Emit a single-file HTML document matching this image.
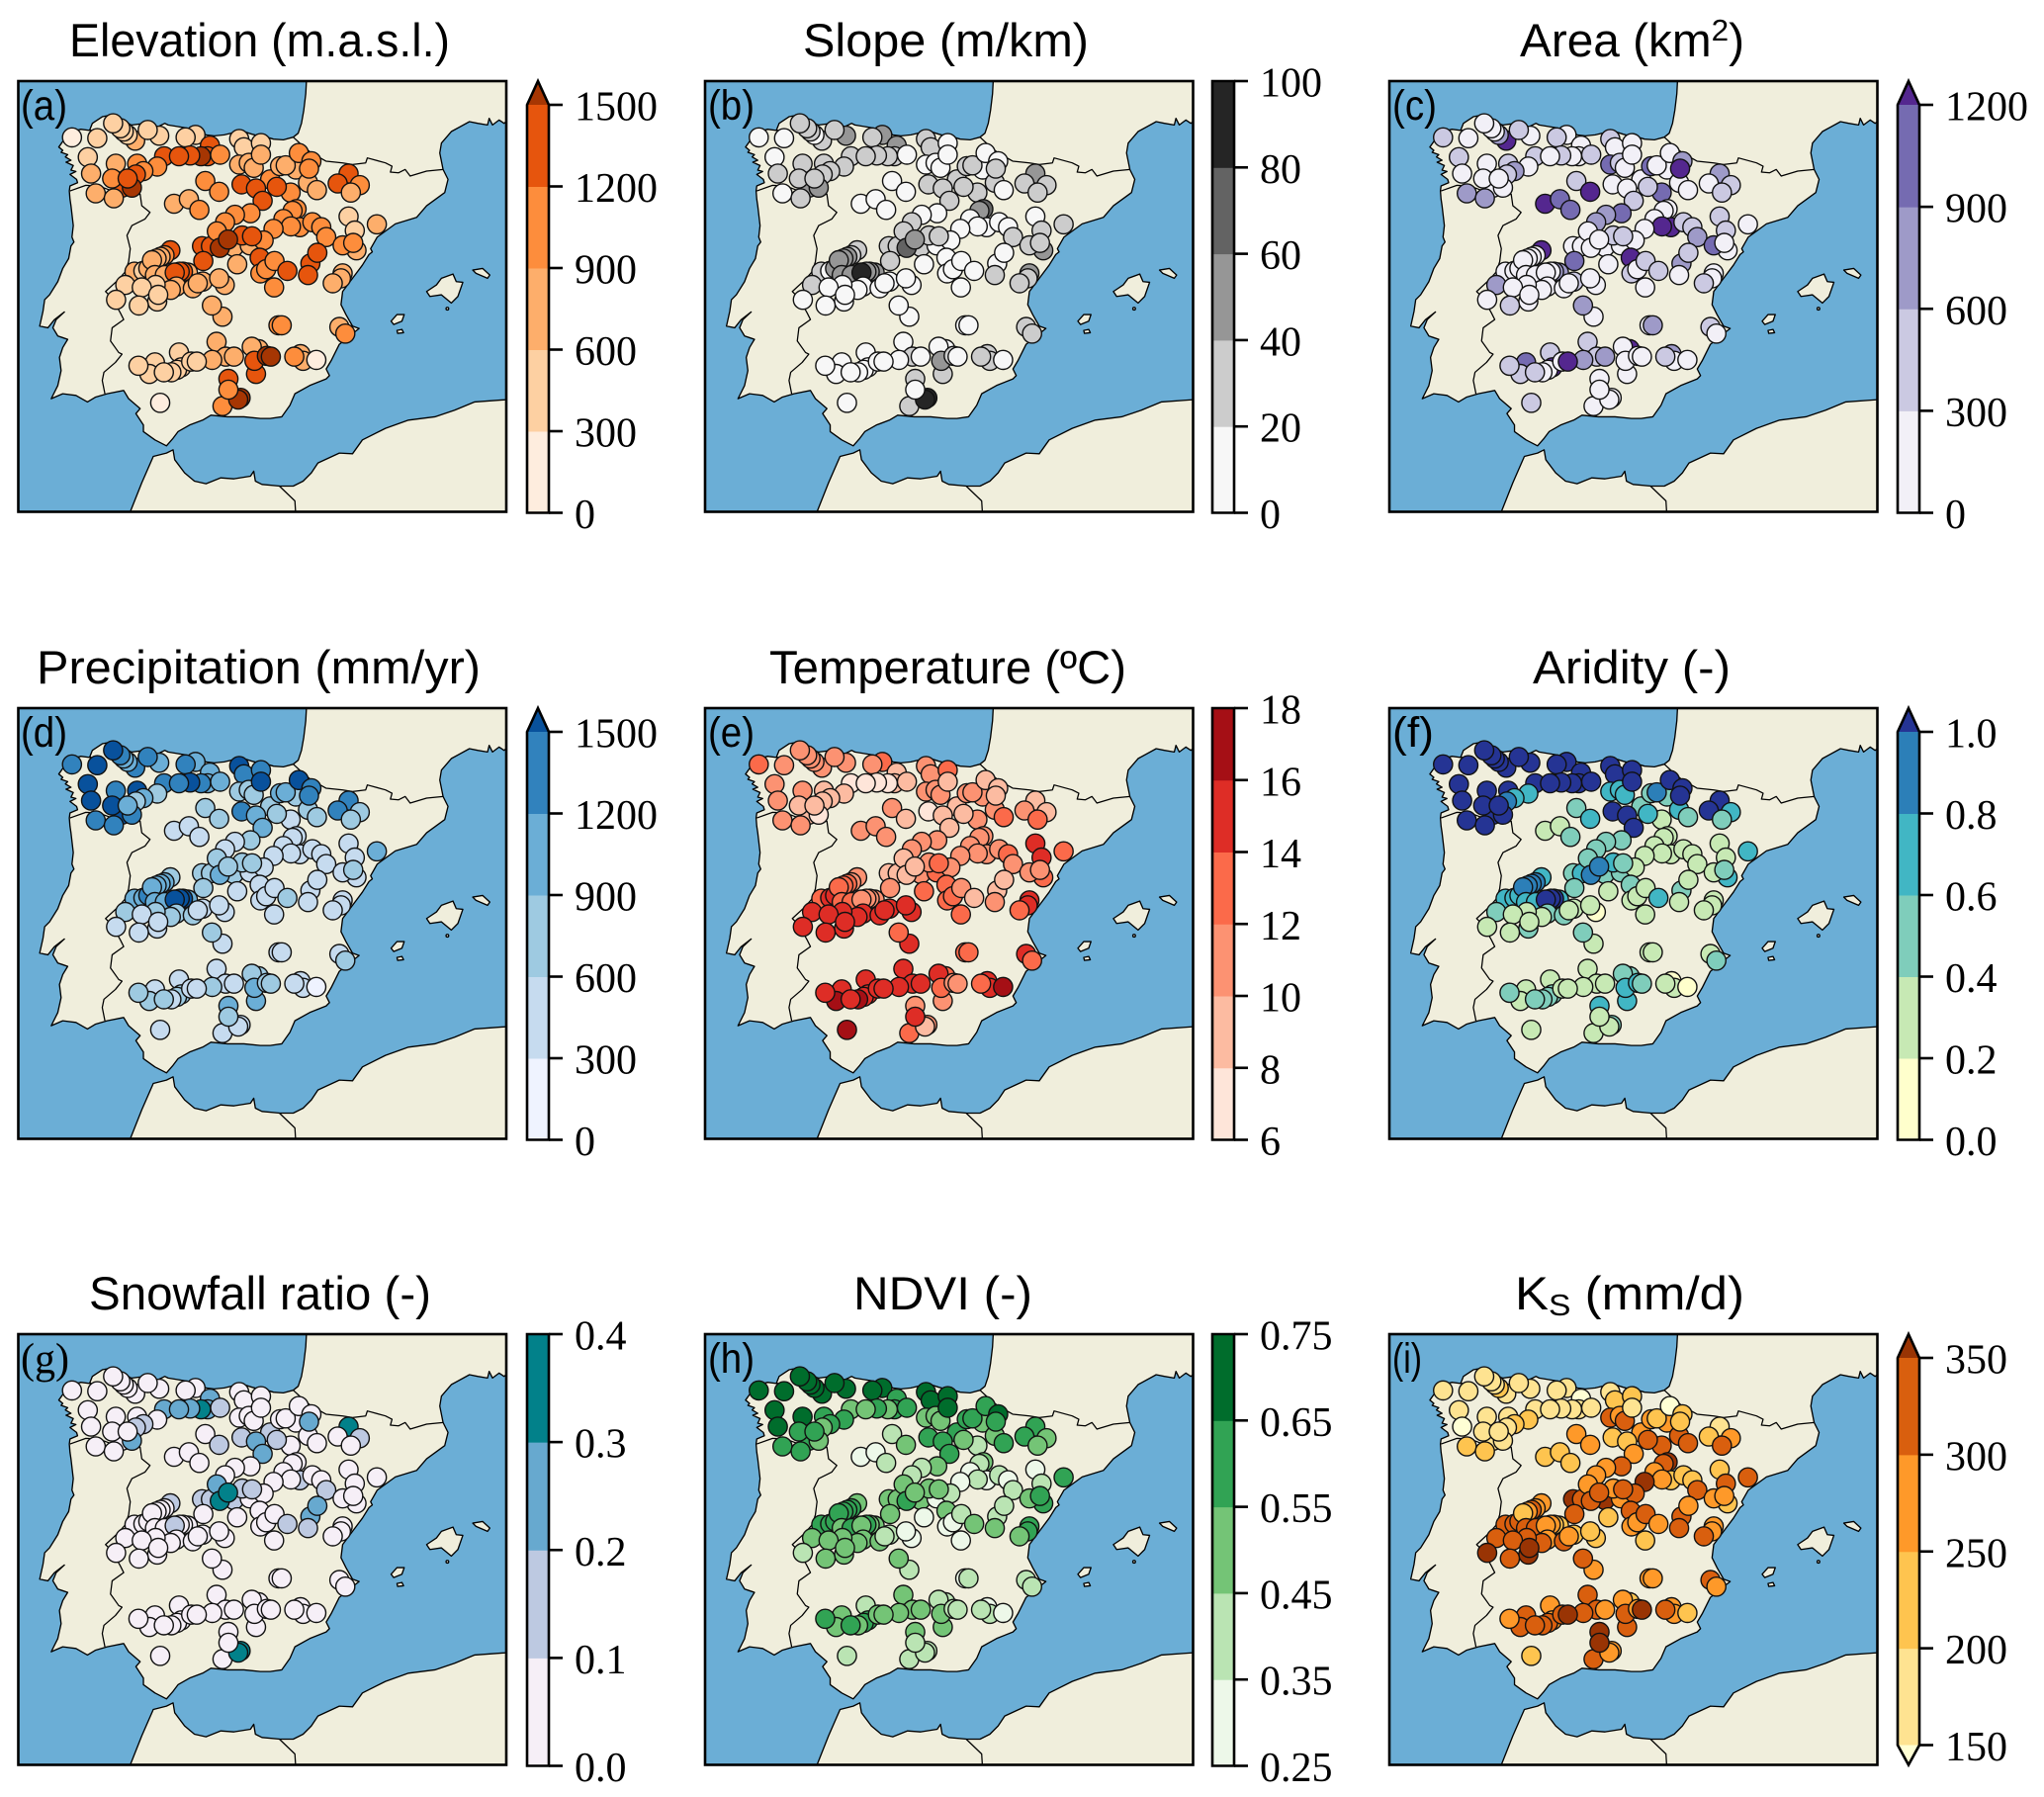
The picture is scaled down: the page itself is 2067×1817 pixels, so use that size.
<!DOCTYPE html>
<html lang="en">
<head>
<meta charset="utf-8">
<title>Catchment attributes over the Iberian Peninsula</title>
<style>
html,body{margin:0;padding:0;background:#fff;}
svg{display:block;}
.title{font-family:"Liberation Sans",sans-serif;font-size:47px;fill:#000;text-anchor:start;}
.plabel{font-family:"Liberation Sans",sans-serif;font-size:43px;fill:#000;}
.tick{font-family:"Liberation Serif",serif;font-size:42px;fill:#000;}
</style>
</head>
<body>
<svg id="figure" xmlns="http://www.w3.org/2000/svg" width="2067" height="1817" viewBox="0 0 2067 1817">
  <defs>
    <symbol id="iberia-basemap" viewBox="15 22 1482 1306" preserveAspectRatio="none">
      <rect x="15" y="22" width="1482" height="1306" fill="#6baed6"/>
      <g fill="#f0eedc" stroke="#000" stroke-width="4" stroke-linejoin="round">
        <path d="M890,22 L888,60 882,110 875,150 865,180 850,192 820,200 790,198 770,192 745,188 725,183 700,175 685,180 670,178 640,185 610,188 585,185 560,170 530,165 500,160 470,155 460,150 440,160 400,150 360,155 340,150 320,135 295,125 270,130 240,150 232,170 245,175 235,172 205,168 180,175 165,195 150,205 138,222 150,232 145,238 165,245 158,252 175,262 160,268 182,278 175,292 190,296 172,305 192,320 195,330 172,340 170,355 172,380 175,400 182,460 178,495 184,510 175,522 168,560 150,590 135,630 110,670 95,685 90,720 80,765 105,770 125,745 155,722 130,745 120,770 135,795 150,800 165,805 150,830 140,860 145,900 135,945 115,985 150,970 190,975 225,995 250,980 285,970 335,960 350,985 385,1015 372,1030 395,1065 395,1085 430,1110 465,1128 485,1105 500,1085 535,1065 575,1050 600,1035 650,1040 700,1040 750,1045 780,1045 815,1040 840,1005 855,970 900,945 950,925 960,915 950,895 965,870 990,820 1010,805 1040,780 1050,772 1030,765 1010,730 995,700 1000,660 1030,620 1060,580 1080,548 1090,540 1085,530 1105,495 1160,455 1225,435 1255,400 1310,360 1320,320 1305,290 1295,240 1300,210 1330,175 1385,145 1410,150 1440,155 1445,135 1455,155 1475,140 1490,150 1497,145 L1497,22 Z"/>
        <path d="M355,1328 L390,1240 425,1160 465,1150 485,1140 490,1170 520,1210 550,1235 585,1243 630,1225 670,1228 720,1220 730,1205 735,1235 755,1245 810,1250 850,1250 880,1235 905,1210 925,1180 990,1150 1030,1152 1060,1110 1130,1075 1200,1050 1280,1040 1340,1020 1400,995 1497,988 L1497,1328 Z"/>
        <path d="M1255,660 L1285,640 1300,620 1335,607 1345,630 1365,632 1350,675 1330,695 1300,670 1265,675 Z"/>
        <path d="M1395,595 L1425,590 1447,610 1440,620 1405,605 Z"/>
        <path d="M1147,750 L1165,730 1187,730 1180,750 1155,760 Z"/>
        <path d="M1165,778 L1180,775 1185,785 1167,787 Z"/>
        <circle cx="1318" cy="712" r="4"/>
      </g>
      <g fill="none" stroke="#000" stroke-width="3.8" stroke-linejoin="round">
        <path d="M850,192 L875,215 905,240 950,265 1000,270 1030,275 1070,270 1075,255 1130,270 1150,280 1145,298 1170,300 1190,290 1205,310 1255,295 1305,290"/>
        <path d="M172,355 L220,338 260,340 300,355 345,370 385,365 390,400 415,420 400,440 360,460 345,490 355,530 350,570 340,600 318,625 280,660 300,680 325,725 335,745 300,770 295,810 320,845 330,850 310,875 275,905 270,930 278,970"/>
        <path d="M808,1250 L855,1295 857,1328"/>
      </g>
    </symbol>
  </defs>

  <rect x="0" y="0" width="2067" height="1817" fill="#fff"/>

  <g id="maps"></g>
  <g id="bars"></g>

  <g>
    <text class="title" x="70" y="57" textLength="385" lengthAdjust="spacingAndGlyphs">Elevation (m.a.s.l.)</text>
    <text class="title" x="812" y="57" textLength="289" lengthAdjust="spacingAndGlyphs">Slope (m/km)</text>
    <text class="title" x="1537" y="57" textLength="227" lengthAdjust="spacingAndGlyphs">Area (km<tspan dy="-16" font-size="31">2</tspan><tspan dy="16">)</tspan></text>
    <text class="title" x="37" y="691" textLength="449" lengthAdjust="spacingAndGlyphs">Precipitation (mm/yr)</text>
    <text class="title" x="778" y="691" textLength="361" lengthAdjust="spacingAndGlyphs">Temperature (ºC)</text>
    <text class="title" x="1550" y="691" textLength="200" lengthAdjust="spacingAndGlyphs">Aridity (-)</text>
    <text class="title" x="90" y="1324" textLength="346" lengthAdjust="spacingAndGlyphs">Snowfall ratio (-)</text>
    <text class="title" x="863" y="1324" textLength="181" lengthAdjust="spacingAndGlyphs">NDVI (-)</text>
    <text class="title" x="1532" y="1324" textLength="232" lengthAdjust="spacingAndGlyphs">K<tspan dy="6" font-size="31">S</tspan><tspan dy="-6"> (mm/d)</tspan></text>
  </g>

  <g id="labels-layer">
    <text class="plabel" x="21" y="121" textLength="47" lengthAdjust="spacingAndGlyphs">(a)</text>
    <text class="plabel" x="716" y="121" textLength="47" lengthAdjust="spacingAndGlyphs">(b)</text>
    <text class="plabel" x="1408" y="121" textLength="45" lengthAdjust="spacingAndGlyphs">(c)</text>
    <text class="plabel" x="21" y="755" textLength="47" lengthAdjust="spacingAndGlyphs">(d)</text>
    <text class="plabel" x="716" y="755" textLength="47" lengthAdjust="spacingAndGlyphs">(e)</text>
    <text class="plabel" x="1408" y="755" textLength="42" lengthAdjust="spacingAndGlyphs">(f)</text>
    <text class="plabel" x="21" y="1388" textLength="49" lengthAdjust="spacingAndGlyphs" style="font-family:'Liberation Serif',serif">(g)</text>
    <text class="plabel" x="716" y="1388" textLength="47" lengthAdjust="spacingAndGlyphs">(h)</text>
    <text class="plabel" x="1408" y="1388" textLength="30" lengthAdjust="spacingAndGlyphs">(i)</text>
  </g>
</svg>

<script>
/* ---------- station locations (degrees) ---------- */
const stationLon = [
-8.42,-7.65,-6.50,-6.73,-6.85,-6.95,-7.17,-5.77,-6.12,-4.67,-4.97,-4.23,-4.30,-4.50,-4.83,-5.62,-5.17,-3.92,-5.83,-7.94,-7.84,-7.09,-6.44,-6.25,-6.48,-6.90,-6.60,-7.20,-6.73,-7.70,-7.15,
-3.34,-3.20,-2.68,-3.34,-3.05,-2.90,-2.68,-3.27,-2.40,-2.83,-2.63,-1.78,-2.20,-2.10,-1.62,-1.93,-1.53,-1.15,-1.25,-1.22,-0.98,-0.02,-0.35,0.32,0.05,
-4.37,-3.95,-5.32,-4.87,-4.55,
-3.00,-3.47,-3.77,-1.60,-1.72,-2.00,-1.50,-1.77,-2.30,-1.12,-0.85,-0.70,-4.47,-4.20,-3.50,-3.02,-2.60,-3.25,-2.95,-4.02,-3.93,-3.68,
-4.43,-3.40,-1.18,-0.97,-1.25,-2.72,-2.70,-2.52,-2.27,-1.88,-2.28,
-0.02,0.17,0.84,0.22,-0.20,0.12,-0.20,-0.25,-0.50,
-5.43,-6.52,-6.25,-6.10,-5.61,-5.73,-5.85,-5.99,-5.90,-5.60,-4.90,-5.05,-5.15,-5.30,
-6.80,-5.25,-5.42,-5.88,-6.30,-5.83,-5.80,-6.39,-7.08,-4.75,-4.45,-4.60,-3.78,-3.95,-3.85,-4.17,
-2.15,-2.05,-0.30,-0.12,-4.03,-5.17,-2.75,-2.96,-2.83,-2.88,-2.50,-2.38,-3.75,-3.50,-4.16,-5.10,-5.23,-4.80,-4.63,-5.90,-6.07,-5.40,-5.63,-6.40,-1.48,-1.40,-1.67,-1.00,-3.67,-3.85,-3.30,-3.37,-3.67,-5.74
];
const stationLat = [
43.26,43.24,43.18,43.32,43.40,43.48,43.60,43.30,43.44,43.32,43.26,43.06,42.80,42.80,42.82,42.80,42.80,42.84,42.55,42.78,42.38,42.62,42.62,42.44,42.36,42.04,42.04,42.26,42.26,41.90,41.78,
43.22,43.02,43.12,42.60,42.64,42.52,42.84,42.12,42.24,42.02,41.72,41.92,42.06,42.56,42.48,42.58,42.88,42.68,42.16,42.50,41.98,42.38,42.14,42.10,41.92,
42.20,41.94,41.65,41.76,41.50,
41.42,41.38,41.20,41.52,41.48,41.28,41.08,41.10,41.04,41.20,41.08,40.84,40.62,40.62,40.60,40.64,40.76,40.88,40.86,40.98,40.58,40.78,
40.26,40.18,40.20,40.46,39.92,40.34,39.96,40.06,40.26,40.02,39.62,
41.34,41.00,41.15,40.52,40.64,40.70,39.96,39.84,39.72,
40.52,40.00,40.02,40.08,40.40,40.36,40.32,40.28,39.92,39.92,39.98,40.00,40.00,39.98,
39.68,39.64,39.56,39.68,39.62,39.28,39.44,39.18,39.32,39.60,39.76,39.72,39.68,39.84,38.91,39.18,
38.70,38.70,38.66,38.50,38.30,38.04,38.12,38.18,37.52,37.84,37.96,37.94,37.94,37.94,37.86,37.68,37.62,37.82,37.82,37.80,37.52,37.56,37.56,37.72,38.00,37.84,37.94,37.86,37.40,36.74,36.94,36.90,37.14,36.82
];

/* ---------- attribute values per station ---------- */
const elevation = [
150,450,750,450,450,450,450,450,450,450,450,1350,1350,1600,1350,1350,1350,1050,1050,450,750,750,1050,1050,1350,1350,1600,1050,1350,750,750,
450,450,450,750,750,750,750,1350,1050,1350,1350,1050,1350,750,750,750,1050,1050,750,1050,750,1350,1350,1050,750,
1050,1050,750,750,1050,
1050,1050,1050,1050,1050,1050,1050,1050,1050,1050,1050,1050,1350,1350,750,750,1050,1350,1350,1050,1600,1600,
1350,750,1350,1350,1350,1350,1050,1050,1050,1350,1050,
450,450,750,750,1050,1050,750,750,750,
1350,750,450,750,1050,750,750,750,750,750,750,1350,1350,1350,
450,750,750,450,450,450,450,450,450,750,750,750,750,750,750,750,
1050,1050,750,1050,750,450,750,750,1350,1350,1600,1600,750,750,750,450,450,450,450,450,450,450,450,450,750,750,1050,150,1350,1050,1600,1600,1050,150
];
const slope = [
10,10,30,10,30,30,30,50,30,50,30,50,30,30,30,30,30,10,30,10,30,30,30,30,30,50,50,30,30,10,30,
30,30,10,10,10,10,10,30,30,30,30,30,30,30,10,30,10,10,30,30,10,50,30,30,30,
10,10,10,10,10,
10,10,30,70,50,10,10,10,10,10,10,30,30,30,30,10,10,30,30,30,70,50,
30,10,10,10,30,10,10,10,10,10,10,
10,30,30,50,30,30,50,30,30,
30,30,10,50,30,50,50,50,50,50,50,50,50,90,
30,10,10,10,10,10,10,10,10,10,10,10,10,10,10,10,
10,10,30,30,10,10,10,10,30,50,30,10,30,10,10,10,10,10,10,10,10,10,10,10,30,30,30,10,30,30,90,90,10,10
];
const area = [
450,150,1300,750,150,150,150,150,450,150,450,150,150,150,450,450,150,450,150,450,150,150,450,750,450,150,150,150,150,750,750,
450,150,150,1050,450,150,150,150,150,150,450,1050,450,1050,150,150,150,750,150,1300,150,750,150,450,450,
450,1300,1300,1050,1050,
1050,750,750,150,150,150,1300,1300,150,450,450,750,150,150,150,150,150,450,450,150,150,150,
1050,150,750,450,150,1300,450,150,450,450,150,
450,450,150,150,1050,150,150,150,450,
1300,150,150,150,150,150,150,150,150,150,750,750,150,150,
750,150,150,150,150,150,150,450,150,150,450,150,150,150,150,750,
150,750,450,150,450,450,1300,150,150,150,150,150,450,750,750,1300,150,150,1300,1050,450,150,450,450,750,150,450,150,150,150,150,150,150,450
];
const precipitation = [
1350,1600,1350,1050,1050,1350,1600,1050,1350,1050,1350,1050,1050,1350,1600,1350,1350,1050,750,1600,1600,1350,1600,1050,750,1600,1350,1600,1050,1350,1350,
1600,1350,1350,750,750,750,1600,1350,750,1050,1050,450,750,1050,750,1050,1600,1350,750,1350,750,1350,1350,750,750,
750,750,450,450,450,
750,450,450,450,450,450,450,450,450,450,450,450,750,750,750,450,450,750,750,750,1050,750,
750,450,450,450,450,450,450,450,450,750,450,
450,450,1050,450,450,750,450,450,450,
750,1050,1050,1350,1050,1050,1050,1050,1050,1050,1050,1600,1600,1600,
750,750,750,750,450,450,450,450,450,750,450,450,450,450,450,750,
450,450,450,750,450,450,750,750,1050,1050,750,750,450,450,750,750,750,450,450,450,750,450,750,750,450,450,450,150,1050,450,450,450,750,450
];
const temperature = [
13,11,11,11,11,11,11,11,11,13,11,9,9,7,7,7,7,9,9,11,11,11,9,9,9,9,7,9,9,11,11,
11,11,13,11,11,11,9,7,9,9,9,11,9,11,11,11,9,9,11,9,13,9,11,9,13,
11,9,11,11,11,
11,11,11,11,11,11,11,11,11,11,13,11,9,9,11,13,11,11,13,9,9,9,
11,13,9,9,11,13,13,13,11,9,13,
15,15,13,13,11,11,15,15,13,
11,13,15,15,11,13,13,13,13,13,11,11,11,11,
15,15,15,15,15,15,15,15,15,15,15,15,15,15,15,13,
13,13,15,13,15,15,13,15,11,13,11,11,15,15,15,15,15,15,15,15,17,17,15,15,15,15,13,17,11,13,11,9,15,17
];
const aridity = [
1.1,1.1,1.1,1.1,1.1,1.1,1.1,1.1,1.1,1.1,1.1,1.1,1.1,1.1,1.1,1.1,1.1,1.1,0.7,1.1,1.1,1.1,1.1,0.7,0.9,1.1,1.1,1.1,1.1,1.1,1.1,
1.1,1.1,1.1,0.7,0.7,0.7,1.1,1.1,0.5,1.1,1.1,0.3,0.7,0.5,0.5,0.9,1.1,1.1,0.7,1.1,0.5,1.1,1.1,0.7,0.5,
0.5,0.7,0.3,0.3,0.5,
0.5,0.5,0.5,0.3,0.3,0.3,0.3,0.3,0.3,0.3,0.3,0.3,0.5,0.7,0.5,0.5,0.3,0.7,0.5,0.5,0.9,0.9,
0.5,0.3,0.5,0.3,0.3,0.5,0.3,0.3,0.3,0.7,0.3,
0.3,0.3,0.7,0.7,0.3,0.5,0.3,0.3,0.3,
0.7,0.7,0.7,0.7,0.9,0.9,0.9,0.9,0.7,0.7,0.7,1.1,1.1,1.1,
0.5,0.5,0.3,0.3,0.3,0.5,0.3,0.3,0.3,0.5,0.3,0.3,0.1,0.3,0.3,0.5,
0.3,0.3,0.3,0.5,0.3,0.3,0.5,0.5,0.7,0.7,0.7,0.5,0.3,0.3,0.3,0.5,0.5,0.3,0.3,0.3,0.3,0.5,0.5,0.5,0.1,0.3,0.3,0.1,0.7,0.3,0.5,0.3,0.3,0.3
];
const snowfallRatio = [
0.05,0.05,0.05,0.05,0.05,0.05,0.05,0.05,0.05,0.05,0.05,0.25,0.25,0.35,0.25,0.25,0.25,0.15,0.05,0.05,0.05,0.05,0.05,0.15,0.15,0.05,0.25,0.05,0.05,0.05,0.05,
0.05,0.05,0.05,0.05,0.05,0.05,0.05,0.15,0.15,0.25,0.25,0.05,0.15,0.05,0.05,0.05,0.05,0.05,0.05,0.25,0.05,0.35,0.05,0.15,0.05,
0.05,0.15,0.05,0.05,0.05,
0.05,0.05,0.05,0.05,0.05,0.05,0.15,0.05,0.05,0.05,0.05,0.15,0.15,0.15,0.15,0.05,0.05,0.15,0.15,0.25,0.35,0.35,
0.05,0.05,0.25,0.25,0.15,0.05,0.05,0.05,0.05,0.15,0.05,
0.05,0.05,0.05,0.05,0.05,0.05,0.05,0.05,0.05,
0.15,0.05,0.05,0.05,0.05,0.05,0.05,0.05,0.05,0.05,0.05,0.05,0.05,0.15,
0.05,0.05,0.05,0.05,0.05,0.05,0.05,0.05,0.05,0.05,0.05,0.05,0.05,0.05,0.05,0.05,
0.05,0.05,0.05,0.05,0.05,0.05,0.05,0.05,0.05,0.05,0.05,0.05,0.05,0.05,0.05,0.05,0.05,0.05,0.05,0.05,0.05,0.05,0.05,0.05,0.05,0.05,0.05,0.05,0.05,0.05,0.35,0.35,0.05,0.05
];
const ndvi = [
0.7,0.7,0.7,0.7,0.7,0.7,0.7,0.7,0.7,0.7,0.7,0.6,0.6,0.5,0.6,0.5,0.5,0.6,0.6,0.7,0.7,0.7,0.6,0.6,0.5,0.6,0.5,0.6,0.6,0.6,0.6,
0.7,0.7,0.7,0.5,0.5,0.5,0.7,0.6,0.6,0.6,0.6,0.4,0.5,0.6,0.5,0.6,0.6,0.7,0.5,0.6,0.6,0.6,0.6,0.5,0.5,
0.4,0.5,0.3,0.3,0.4,
0.5,0.4,0.4,0.5,0.4,0.3,0.3,0.4,0.3,0.4,0.3,0.4,0.5,0.5,0.5,0.3,0.4,0.5,0.5,0.5,0.6,0.5,
0.5,0.3,0.4,0.4,0.5,0.5,0.3,0.3,0.4,0.5,0.3,
0.3,0.4,0.6,0.6,0.5,0.6,0.6,0.6,0.5,
0.5,0.6,0.6,0.6,0.6,0.6,0.6,0.6,0.5,0.6,0.5,0.5,0.6,0.5,
0.5,0.5,0.5,0.5,0.5,0.5,0.5,0.5,0.4,0.5,0.4,0.4,0.3,0.3,0.4,0.5,
0.3,0.4,0.4,0.4,0.5,0.4,0.4,0.4,0.5,0.5,0.4,0.4,0.5,0.5,0.5,0.6,0.6,0.5,0.5,0.5,0.5,0.5,0.6,0.6,0.3,0.4,0.4,0.3,0.5,0.4,0.4,0.4,0.4,0.4
];
const saturatedConductivity = [
175,175,175,225,175,175,175,175,175,175,175,140,175,175,175,175,175,175,225,175,140,175,175,225,175,175,175,175,175,225,225,
175,225,225,325,275,325,175,225,275,225,275,325,325,275,275,225,140,225,325,225,325,175,225,275,325,
275,275,225,225,225,
325,275,275,370,325,275,225,275,370,225,225,325,370,325,370,275,325,275,325,275,325,325,
325,225,325,275,325,325,275,275,325,275,225,
225,325,325,225,275,275,275,275,325,
275,325,325,325,275,325,275,225,325,325,225,225,275,275,
325,275,325,325,325,370,370,325,370,325,225,275,225,225,275,325,
275,275,325,275,325,275,225,275,325,325,275,370,325,275,325,275,325,325,370,325,325,325,325,275,275,275,325,225,370,325,275,275,370,225
];

/* ---------- class boundaries and tick labels ---------- */
const elevationTicks = [0,300,600,900,1200,1500];
const slopeTicks = [0,20,40,60,80,100];
const areaTicks = [0,300,600,900,1200];
const precipitationTicks = [0,300,600,900,1200,1500];
const temperatureTicks = [6,8,10,12,14,16,18];
const aridityTicks = ["0.0","0.2","0.4","0.6","0.8","1.0"];
const snowfallTicks = ["0.0","0.1","0.2","0.3","0.4"];
const ndviTicks = ["0.25","0.35","0.45","0.55","0.65","0.75"];
const ksTicks = [150,200,250,300,350];

/* ---------- colour ramps ---------- */
const orangesRamp = ["#feedde","#fdd0a2","#fdae6b","#fd8d3c","#e6550d","#a63603"];
const greysRamp = ["#f7f7f7","#cccccc","#969696","#636363","#252525"];
const purplesRamp = ["#f2f0f7","#cbc9e2","#9e9ac8","#756bb1","#54278f"];
const bluesRamp = ["#eff3ff","#c6dbef","#9ecae1","#6baed6","#3182bd","#08519c"];
const redsRamp = ["#fee5d9","#fcbba1","#fc9272","#fb6a4a","#de2d26","#a50f15"];
const ylgnbuRamp = ["#ffffcc","#c7e9b4","#7fcdbb","#41b6c4","#2c7fb8","#253494"];
const pubugnRamp = ["#f6eff7","#bdc9e1","#67a9cf","#02818a"];
const greensRamp = ["#edf8e9","#bae4b3","#74c476","#31a354","#006d2c"];
const ylorbrRamp = ["#ffffd4","#fee391","#fec44f","#fe9929","#d95f0e","#993404"];

const panels = [
  {id:"elevation",values:elevation,ticks:elevationTicks,ramp:orangesRamp,low:false,high:true},
  {id:"slope",values:slope,ticks:slopeTicks,ramp:greysRamp,low:false,high:false},
  {id:"area",values:area,ticks:areaTicks,ramp:purplesRamp,low:false,high:true},
  {id:"precipitation",values:precipitation,ticks:precipitationTicks,ramp:bluesRamp,low:false,high:true},
  {id:"temperature",values:temperature,ticks:temperatureTicks,ramp:redsRamp,low:false,high:false},
  {id:"aridity",values:aridity,ticks:aridityTicks,ramp:ylgnbuRamp,low:false,high:true},
  {id:"snowfall-ratio",values:snowfallRatio,ticks:snowfallTicks,ramp:pubugnRamp,low:false,high:false},
  {id:"ndvi",values:ndvi,ticks:ndviTicks,ramp:greensRamp,low:false,high:false},
  {id:"ks",values:saturatedConductivity,ticks:ksTicks,ramp:ylorbrRamp,low:true,high:true}
];

/* ---------- layout ---------- */
const NS = "http://www.w3.org/2000/svg";
const colLeft = [18.5, 713, 1405];
const rowTop = [82, 716, 1349];
const mapW = 493.5, mapH = 435.5;
const barLeft = [533, 1226, 1919];
const barW = 22, extendH = 24;
const tickLen = 14;
const lonMin = -10.05, lonMax = 4.77, latMin = 34.176, latMax = 44.624;

function lonToX(left, lon){ return left + (lon - lonMin) / (lonMax - lonMin) * mapW; }
function latToY(top, lat){ return top + (latMax - lat) / (latMax - latMin) * mapH; }
function classColor(p, v){
  const levels = p.ticks.map(Number);
  let n = 0;
  for (const l of levels) { if (l <= v) n++; }
  let idx = n - 1 + (p.low ? 1 : 0);
  idx = Math.max(0, Math.min(p.ramp.length - 1, idx));
  return p.ramp[idx];
}
function mk(tag, attrs, parent){
  const el = document.createElementNS(NS, tag);
  for (const k in attrs) el.setAttribute(k, attrs[k]);
  parent.appendChild(el);
  return el;
}

const mapsRoot = document.getElementById("maps");
const barsRoot = document.getElementById("bars");

panels.forEach(function(p, i){
  const col = i % 3, row = Math.floor(i / 3);
  const left = colLeft[col], top = rowTop[row];

  /* map */
  const g = mk("g", {}, mapsRoot);
  
  

  const base = mk("use", {href:"#iberia-basemap", x:left, y:top, width:mapW, height:mapH}, g);
  
  

  p.values.forEach(function(v, s){
    const dot = mk("circle", {
      cx: lonToX(left, stationLon[s]).toFixed(1),
      cy: latToY(top, stationLat[s]).toFixed(1),
      r: 9.6, fill: classColor(p, v), stroke: "#111", "stroke-width": 1.4
    }, g);
    
    
  });

  const frame = mk("rect", {x:left, y:top, width:mapW, height:mapH, fill:"none", stroke:"#000", "stroke-width":2.6}, g);
  
  

  /* colorbar */
  const b = mk("g", {}, barsRoot);
  
  

  const bx = barLeft[col];
  const barTop = top + (p.high ? extendH : 0);
  const barBot = top + mapH + (p.low ? -20 : 1);
  const nClasses = p.ticks.length - 1;
  const step = (barBot - barTop) / nClasses;
  const firstClass = p.low ? 1 : 0;

  for (let c = 0; c < nClasses; c++) {
    const seg = mk("rect", {
      x: bx, y: (barBot - (c + 1) * step).toFixed(2), width: barW, height: (step + 0.5).toFixed(2),
      fill: p.ramp[c + firstClass]
    }, b);
    
    
  }
  let outline = "M" + bx + "," + barBot;
  if (p.low) {
    const lowTip = mk("path", {d:"M"+bx+","+barBot+" L"+(bx+barW/2)+","+(barBot+20)+" L"+(bx+barW)+","+barBot+" Z", fill:p.ramp[0]}, b);
    
    
    outline += " L"+(bx+barW/2)+","+(barBot+20)+" L"+(bx+barW)+","+barBot;
  } else {
    outline += " L"+(bx+barW)+","+barBot;
  }
  outline += " L"+(bx+barW)+","+barTop;
  if (p.high) {
    const highTip = mk("path", {d:"M"+bx+","+barTop+" L"+(bx+barW/2)+","+(barTop-extendH)+" L"+(bx+barW)+","+barTop+" Z", fill:p.ramp[p.ramp.length-1]}, b);
    
    
    outline += " L"+(bx+barW/2)+","+(barTop-extendH)+" L"+bx+","+barTop;
  } else {
    outline += " L"+bx+","+barTop;
  }
  outline += " Z";
  const line = mk("path", {d:outline, fill:"none", stroke:"#000", "stroke-width":2.6, "stroke-linejoin":"miter"}, b);
  
  

  p.ticks.forEach(function(t, k){
    const y = barBot - k * step;
    const tick = mk("line", {x1:bx+barW, x2:bx+barW+tickLen, y1:y, y2:y, stroke:"#000", "stroke-width":2.6}, b);
    
    
    const lab = mk("text", {"class":"tick", x:bx+barW+tickLen+12, y:y+15.5}, b);
    lab.textContent = String(t);
    
    
  });
});
</script>
</body>
</html>
